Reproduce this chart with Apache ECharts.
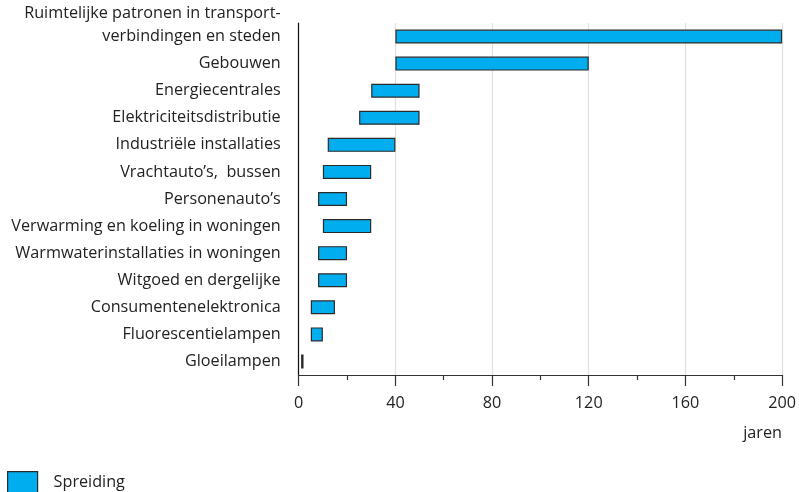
<!DOCTYPE html>
<html>
<head>
<meta charset="utf-8">
<script src="https://cdn.jsdelivr.net/npm/echarts@6/dist/echarts.min.js"></script>
<style>html,body{margin:0;padding:0;background:#fff}#c{width:799px;height:492px}</style>
</head>
<body>
<div id="c"></div>
<script>
const categories = [
  "Ruimtelijke patronen in transport-\nverbindingen en steden",
  "Gebouwen",
  "Energiecentrales",
  "Elektriciteitsdistributie",
  "Industriële installaties",
  "Vrachtauto’s,  bussen",
  "Personenauto’s",
  "Verwarming en koeling in woningen",
  "Warmwaterinstallaties in woningen",
  "Witgoed en dergelijke",
  "Consumentenelektronica",
  "Fluorescentielampen",
  "Gloeilampen"
];
const startValues = [40, 40, 30, 25, 12, 10, 8, 10, 8, 8, 5, 5, 1];
const endValues   = [200, 120, 50, 50, 40, 30, 20, 30, 20, 20, 15, 10, 2];
const xTicks = [0, 40, 80, 120, 160, 200];

const rangeValues = endValues.map((e, i) => e - startValues[i]);
const FONT = "Open Sans";
const FS = 16.2;

const chart = echarts.init(document.getElementById('c'));
chart.setOption({
  animation: false,
  textStyle: { fontFamily: FONT },
  grid: { left: 298.7, right: 16.7, top: 23, bottom: 117, containLabel: false },
  xAxis: {
    type: 'value', min: 0, max: 200, interval: 40,
    axisLine: { show: true, lineStyle: { color: '#333', width: 1.2 } },
    axisTick: { show: true, length: 11, lineStyle: { color: '#333', width: 1.2 } },
    minorTick: { show: true, splitNumber: 2, length: 5, lineStyle: { color: '#333', width: 1.2 } },
    splitLine: { show: true, lineStyle: { color: '#e0e0e0', width: 1.2 } },
    axisLabel: {
      color: '#222', fontSize: FS, margin: 20, fontFamily: FONT,
      formatter: v => xTicks.includes(v) ? String(v) : ''
    }
  },
  yAxis: {
    type: 'category', data: categories, inverse: true,
    axisLine: { show: true, lineStyle: { color: '#111', width: 1.2 } },
    axisTick: { show: false },
    axisLabel: {
      color: '#222', fontSize: FS, margin: 18, fontFamily: FONT, lineHeight: 23,
      interval: 0, hideOverlap: false,
      formatter: v => v.indexOf('\n') >= 0 ? v + '\n ' : v
    }
  },
  legend: {
    show: true, data: ['Spreiding'], left: 7, top: 471, padding: 0,
    icon: 'rect', itemWidth: 30, itemHeight: 22, itemGap: 10,
    itemStyle: { color: '#00aeef', borderColor: '#2b2b2b', borderWidth: 1.2 },
    textStyle: { fontSize: FS, color: '#222', fontFamily: FONT, padding: [0, 0, 0, 11] }
  },
  graphic: [{
    type: 'text', right: 17, top: 425,
    style: { text: 'jaren', fontSize: FS, fill: '#222', fontFamily: FONT }
  }],
  series: [
    {
      name: 'base', type: 'bar', stack: 'r', data: startValues, barWidth: 14,
      itemStyle: { color: 'transparent' }, silent: true
    },
    {
      name: 'Spreiding', type: 'bar', stack: 'r', data: rangeValues, barWidth: 14,
      itemStyle: { color: '#00aeef', borderColor: '#2b2b2b', borderWidth: 1.2 }
    }
  ]
});
</script>
</body>
</html>
